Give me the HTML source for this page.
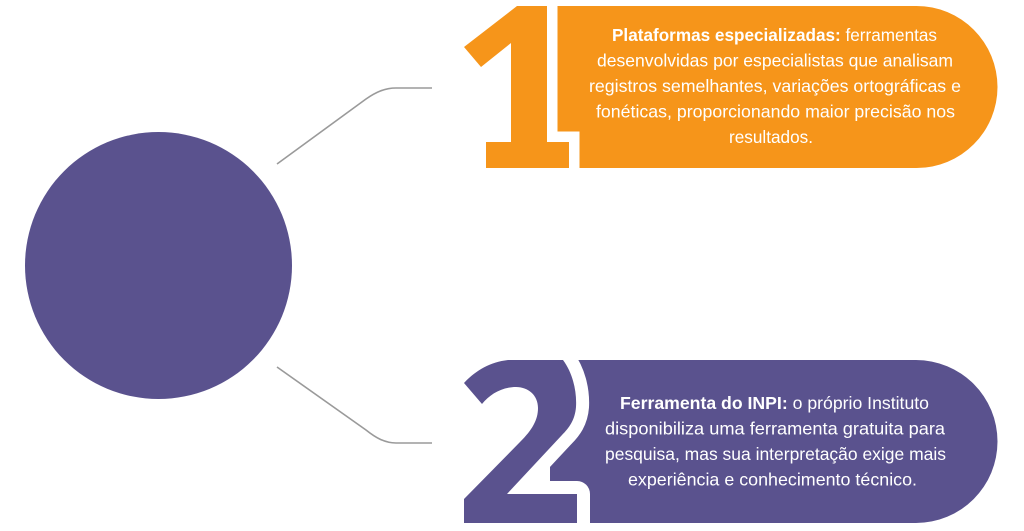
<!DOCTYPE html>
<html>
<head>
<meta charset="utf-8">
<style>
  html, body { margin: 0; padding: 0; background: #ffffff; }
  svg { display: block; }
  .t { font-family: "Liberation Sans", "DejaVu Sans", sans-serif; font-size: 17.5px; fill: #ffffff; }
</style>
</head>
<body>
<svg width="1024" height="531" viewBox="0 0 1024 531" xmlns="http://www.w3.org/2000/svg">
  <rect x="0" y="0" width="1024" height="531" fill="#ffffff"/>

  <!-- big circle -->
  <circle cx="158.5" cy="265.5" r="133.5" fill="#5a528e"/>

  <!-- connectors -->
  <path d="M277,164 L366,99 C376,92 385,88 396,88 L432,88" fill="none" stroke="#9a9a9a" stroke-width="1.6"/>
  <path d="M277,367 L366,430 C376,438 385,443 396,443 L432,443" fill="none" stroke="#9a9a9a" stroke-width="1.6"/>

  <!-- pill 1 (orange) -->
  <path d="M545,6 H916.5 A81,81 0 0 1 916.5,168 H545 Z" fill="#f6951a"/>
  <!-- digit 1 -->
  <path d="M517,6 H547 V142 H569 V168 H486 V142 H511 V43 L481,67 L464,47 Z"
        fill="#f6951a" stroke="#ffffff" stroke-width="21" stroke-linejoin="miter" paint-order="stroke"/>

  <!-- pill 2 (purple) -->
  <path d="M550,360 H916 A81.5,81.5 0 0 1 916,523 H550 Z" fill="#5a528e"/>
  <!-- digit 2 -->
  <path d="M464,383 C475,371 490,362 508,360 H563 C572,372 577,390 576,407 C575,420 569,428 562,435 L507,494 H577 V523 H464 V499 L520,442 C532,430 538,420 538,408 C538,395 528,387 516,387 C502,387 490,394 482,404 Z"
        fill="#5a528e" stroke="#ffffff" stroke-width="26" stroke-linejoin="round" paint-order="stroke"/>

  <!-- text pill 1 -->
  <text class="t" x="612" y="41" textLength="325" lengthAdjust="spacingAndGlyphs"><tspan font-weight="bold">Plataformas especializadas:</tspan> ferramentas</text>
  <text class="t" x="597" y="66.5" textLength="356" lengthAdjust="spacingAndGlyphs">desenvolvidas por especialistas que analisam</text>
  <text class="t" x="589" y="92" textLength="372" lengthAdjust="spacingAndGlyphs">registros semelhantes, variações ortográficas e</text>
  <text class="t" x="596" y="117.5" textLength="359" lengthAdjust="spacingAndGlyphs">fonéticas, proporcionando maior precisão nos</text>
  <text class="t" x="729" y="143" textLength="84" lengthAdjust="spacingAndGlyphs">resultados.</text>

  <!-- text pill 2 -->
  <text class="t" x="620" y="409" textLength="309" lengthAdjust="spacingAndGlyphs"><tspan font-weight="bold">Ferramenta do INPI:</tspan> o próprio Instituto</text>
  <text class="t" x="605" y="434.5" textLength="340" lengthAdjust="spacingAndGlyphs">disponibiliza uma ferramenta gratuita para</text>
  <text class="t" x="605" y="460" textLength="341" lengthAdjust="spacingAndGlyphs">pesquisa, mas sua interpretação exige mais</text>
  <text class="t" x="628" y="485.5" textLength="289" lengthAdjust="spacingAndGlyphs">experiência e conhecimento técnico.</text>
</svg>
</body>
</html>
